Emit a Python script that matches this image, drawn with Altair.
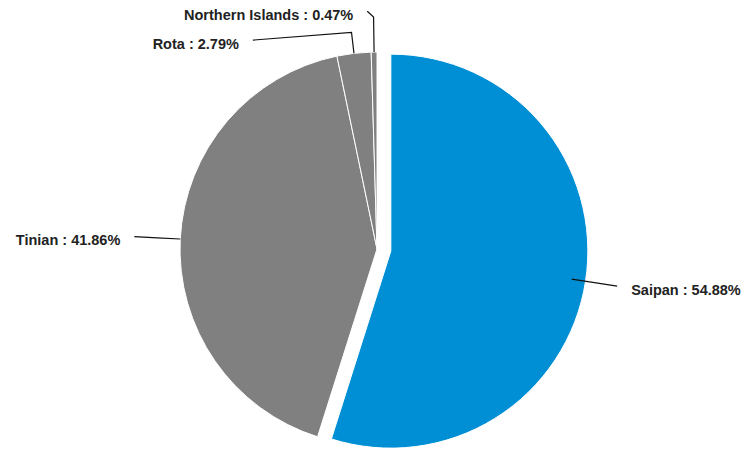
import altair as alt
import pandas as pd

# ---- data ----
regions = ["Saipan", "Tinian", "Rota", "Northern Islands"]
shares = [54.88, 41.86, 2.79, 0.47]
slice_colors = ["#008FD5", "#808080", "#808080", "#808080"]

# ---- layout (pixels, chart coordinates) ----
W, H = 734, 440
CX, CY = 369, 241          # pie centre
R = 197                    # pie radius
EXPLODE = {"Saipan": 14}   # slice offset
LABEL_R = 243
LABEL_R_OVERRIDE = {"Northern Islands": 238}
ELBOW_R = {"Rota": 218, "Northern Islands": 232}
LABEL_SHIFT_DEG = {"Rota": -24, "Northern Islands": -1.5}
GAP = 14
FONT = "Liberation Sans"
FONT_SIZE = 14.5
BASE_DY = 8.5

df = pd.DataFrame({
    "region": regions,
    "share": shares,
    "color": slice_colors,
    "idx": list(range(len(regions))),
})
df["label"] = [f"{r} : {s:.2f}%" for r, s in zip(regions, shares)]
df["ex"] = [EXPLODE.get(r, 0) for r in regions]
df["elbow"] = [ELBOW_R.get(r, (R + LABEL_R_OVERRIDE.get(r, LABEL_R)) / 2) for r in regions]
df["lr"] = [LABEL_R_OVERRIDE.get(r, LABEL_R) for r in regions]
df["shift"] = [LABEL_SHIFT_DEG.get(r, 0) for r in regions]

base = alt.Chart(df).transform_window(
    cum="sum(share)", sort=[alt.SortField("idx")], frame=[None, 0]
).transform_joinaggregate(
    total="sum(share)"
).transform_calculate(
    a0="(datum.cum - datum.share) / datum.total * 2 * PI"
).transform_calculate(
    a1="datum.cum / datum.total * 2 * PI"
).transform_calculate(
    mid="(datum.a0 + datum.a1) / 2"
).transform_calculate(
    la="datum.mid + datum.shift * PI / 180"
)

pie = base.transform_calculate(
    cx=f"{CX} + datum.ex * sin(datum.mid)"
).transform_calculate(
    cy=f"{CY} - datum.ex * cos(datum.mid)"
).mark_arc(outerRadius=R, stroke="white", strokeWidth=1).encode(
    theta=alt.Theta("share:Q", stack=True),
    order=alt.Order("idx:Q"),
    x=alt.X("cx:Q", scale=None),
    y=alt.Y("cy:Q", scale=None),
    color=alt.Color("color:N", scale=None),
)

lines = base.transform_calculate(
    pts="[0, 1, 2]"
).transform_flatten(["pts"]).transform_calculate(
    rr=f"datum.pts == 0 ? {R} : (datum.pts == 1 ? datum.elbow : datum.lr)"
).transform_calculate(
    aa="datum.pts == 2 ? datum.la : datum.mid"
).transform_calculate(
    lx=f"{CX} + datum.rr * sin(datum.aa)"
).transform_calculate(
    ly=f"{CY} - datum.rr * cos(datum.aa)"
).mark_line(color="#111111", strokeWidth=1.2).encode(
    x=alt.X("lx:Q", scale=None),
    y=alt.Y("ly:Q", scale=None),
    detail="region:N",
    order=alt.Order("pts:Q"),
)

lab = base.transform_calculate(
    ex_=f"{CX} + datum.lr * sin(datum.la)"
).transform_calculate(
    ey_=f"{CY} - datum.lr * cos(datum.la)"
)

labels_right = lab.transform_filter("sin(datum.la) >= 0").transform_calculate(
    tx=f"datum.ex_ + {GAP}"
).mark_text(
    align="left", baseline="alphabetic", dy=BASE_DY, font=FONT, fontSize=FONT_SIZE,
    fontWeight="bold", color="#222222"
).encode(
    x=alt.X("tx:Q", scale=None), y=alt.Y("ey_:Q", scale=None), text="label:N"
)

labels_left = lab.transform_filter("sin(datum.la) < 0").transform_calculate(
    tx=f"datum.ex_ - {GAP}"
).mark_text(
    align="right", baseline="alphabetic", dy=BASE_DY, font=FONT, fontSize=FONT_SIZE,
    fontWeight="bold", color="#222222"
).encode(
    x=alt.X("tx:Q", scale=None), y=alt.Y("ey_:Q", scale=None), text="label:N"
)

chart = alt.layer(pie, lines, labels_right, labels_left).properties(
    width=W, height=H, padding=0,
    autosize=alt.AutoSizeParams(type="none"),
).configure_view(stroke=None)

chart.save("out.html", embed_options={"renderer": "svg", "actions": False})
